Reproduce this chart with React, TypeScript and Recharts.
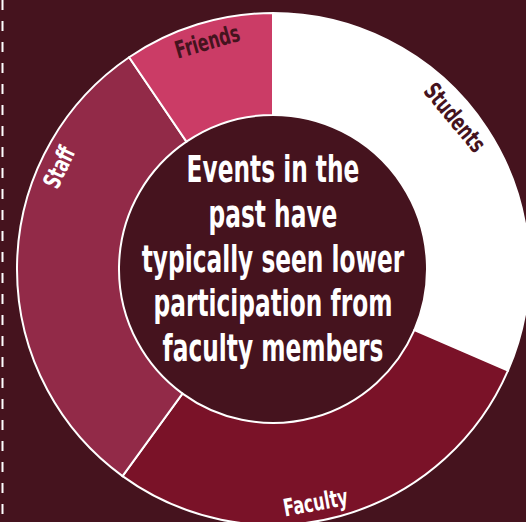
import { PieChart, Pie, Cell, Customized } from 'recharts'

const groups = ['Students', 'Faculty', 'Staff', 'Friends']
const shares = [31.5, 28.5, 30.5, 9.5]
const centerLines = [
  'Events in the',
  'past have',
  'typically seen lower',
  'participation from',
  'faculty members',
]

const data = groups.map((name, i) => ({ name, value: shares[i] }))

const bg = '#45131e'
const fills: Record<string, string> = {
  Students: '#ffffff',
  Faculty: '#7a1228',
  Staff: '#922a48',
  Friends: '#cb3c66',
}
const labelInk: Record<string, string> = {
  Students: bg,
  Faculty: '#ffffff',
  Staff: '#ffffff',
  Friends: bg,
}
// labels sit a bit off the slice middle in the original
const labelShift: Record<string, number> = {
  Students: 6.5,
  Faculty: -5,
  Staff: -24.5,
  Friends: -1,
}

const font = "'DejaVu Sans Condensed', 'Liberation Sans Narrow', sans-serif"
const RAD = Math.PI / 180

const CX = 273
const CY = 269

const renderLabel = (props: any) => {
  const { cx, cy, midAngle, name } = props
  const a = midAngle + (labelShift[name] ?? 0)
  const r = 237
  const x = cx + r * Math.cos(-a * RAD)
  const y = cy + r * Math.sin(-a * RAD)
  const upper = Math.sin(a * RAD) > 0
  const rot = upper ? 90 - a : -90 - a
  return (
    <text
      x={0}
      y={0}
      fill={labelInk[name]}
      textAnchor="middle"
      dominantBaseline="central"
      fontFamily={font}
      fontWeight="bold"
      fontSize={24}
      transform={`translate(${x} ${y}) rotate(${rot}) scale(0.74 1)`}
    >
      {name}
    </text>
  )
}

const CenterNote = () => (
  <g transform={`translate(${CX},0) scale(0.7,1)`}>
    {centerLines.map((line, i) => (
      <text
        key={line}
        x={0}
        y={182 + i * 44.8}
        fill="#ffffff"
        textAnchor="middle"
        fontFamily={font}
        fontWeight="bold"
        fontSize={37}
      >
        {line}
      </text>
    ))}
  </g>
)

const DashedRule = () => (
  <line x1={2.5} y1={0} x2={2.5} y2={522} stroke="#ffffff" strokeWidth={2} strokeDasharray="10 11" />
)

export default function App() {
  return (
    <div style={{ position: 'absolute', top: 0, left: 0, width: 526, height: 522, background: bg, overflow: 'hidden' }}>
      <PieChart width={526} height={522} margin={{ top: 0, right: 0, bottom: 0, left: 0 }}>
        <Pie
          data={data}
          dataKey="value"
          nameKey="name"
          cx={CX}
          cy={CY}
          innerRadius={154}
          outerRadius={256}
          startAngle={90}
          endAngle={-270}
          stroke="#ffffff"
          strokeWidth={2}
          label={renderLabel}
          labelLine={false}
          isAnimationActive={false}
        >
          {data.map((d) => (
            <Cell key={d.name} fill={fills[d.name]} />
          ))}
        </Pie>
        <Customized component={CenterNote} />
        <Customized component={DashedRule} />
      </PieChart>
    </div>
  )
}
